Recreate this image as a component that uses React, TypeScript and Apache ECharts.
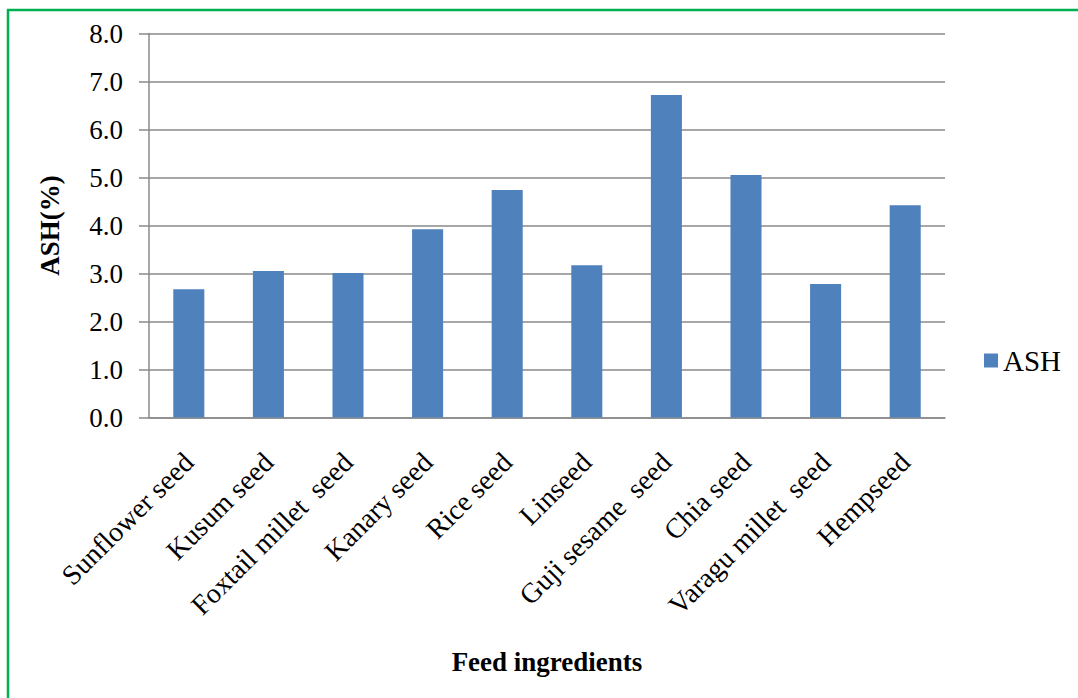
import React, { useEffect, useRef } from "react";
import * as echarts from "echarts";

const categories = [
  "Sunflower seed",
  "Kusum seed",
  "Foxtail millet  seed",
  "Kanary seed",
  "Rice seed",
  "Linseed",
  "Guji sesame  seed",
  "Chia seed",
  "Varagu millet  seed",
  "Hempseed",
];
const ashValues = [2.67, 3.05, 3.01, 3.92, 4.74, 3.17, 6.72, 5.05, 2.78, 4.42];
const yTicks = { min: 0, max: 8, interval: 1 };

const FONT = "'Liberation Serif', 'Times New Roman', serif";
const GRID_COLOR = "#8a8a8a";
const BAR_COLOR = "#4F81BD";
const FRAME_COLOR = "#00B050";

export default function App() {
  const ref = useRef<HTMLDivElement>(null);

  useEffect(() => {
    if (!ref.current) return;
    const chart = echarts.init(ref.current, null, { renderer: "svg" });
    chart.setOption({
      animation: false,
      backgroundColor: "#ffffff",
      textStyle: { fontFamily: FONT, color: "#000" },
      graphic: [
        {
          type: "line",
          shape: { x1: 7, y1: 10, x2: 1078, y2: 10 },
          style: { stroke: FRAME_COLOR, lineWidth: 2.5 },
        },
        {
          type: "line",
          shape: { x1: 8, y1: 9, x2: 8, y2: 698 },
          style: { stroke: FRAME_COLOR, lineWidth: 2.5 },
        },
      ],
      grid: { left: 149, right: 133, top: 33.5, bottom: 280.5, containLabel: false },
      legend: {
        data: ["ASH"],
        left: 979,
        top: 341,
        itemWidth: 14,
        itemHeight: 14,
        itemGap: 6,
        icon: "rect",
        textStyle: { fontFamily: FONT, fontSize: 29, color: "#000", padding: [0, 0, 0, 0] },
      },
      xAxis: {
        type: "category",
        data: categories,
        name: "Feed ingredients",
        nameLocation: "middle",
        nameGap: 231,
        nameTextStyle: { fontFamily: FONT, fontSize: 27, fontWeight: "bold", color: "#000" },
        axisLine: { show: true, lineStyle: { color: GRID_COLOR, width: 1.5 } },
        axisTick: { show: false },
        axisLabel: {
          interval: 0,
          rotate: 45,
          margin: 40,
          fontFamily: FONT,
          fontSize: 28,
          color: "#000",
        },
      },
      yAxis: {
        type: "value",
        min: yTicks.min,
        max: yTicks.max,
        interval: yTicks.interval,
        name: "ASH(%)",
        nameLocation: "middle",
        nameGap: 86,
        nameRotate: 90,
        nameTextStyle: { fontFamily: FONT, fontSize: 27, fontWeight: "bold", color: "#000" },
        axisLine: { show: true, lineStyle: { color: GRID_COLOR, width: 1.5 } },
        axisTick: { show: true, inside: false, length: 10, lineStyle: { color: GRID_COLOR, width: 1.5 } },
        splitLine: { show: true, lineStyle: { color: GRID_COLOR, width: 1.5 } },
        axisLabel: {
          margin: 26,
          fontFamily: FONT,
          fontSize: 27,
          color: "#000",
          formatter: (v: number) => v.toFixed(1),
        },
      },
      series: [
        {
          name: "ASH",
          type: "bar",
          data: ashValues,
          barWidth: "39%",
          itemStyle: { color: BAR_COLOR },
        },
      ],
    });
    return () => chart.dispose();
  }, []);

  return (
    <div
      ref={ref}
      style={{ position: "absolute", left: 0, top: 0, width: 1078, height: 698 }}
    />
  );
}
